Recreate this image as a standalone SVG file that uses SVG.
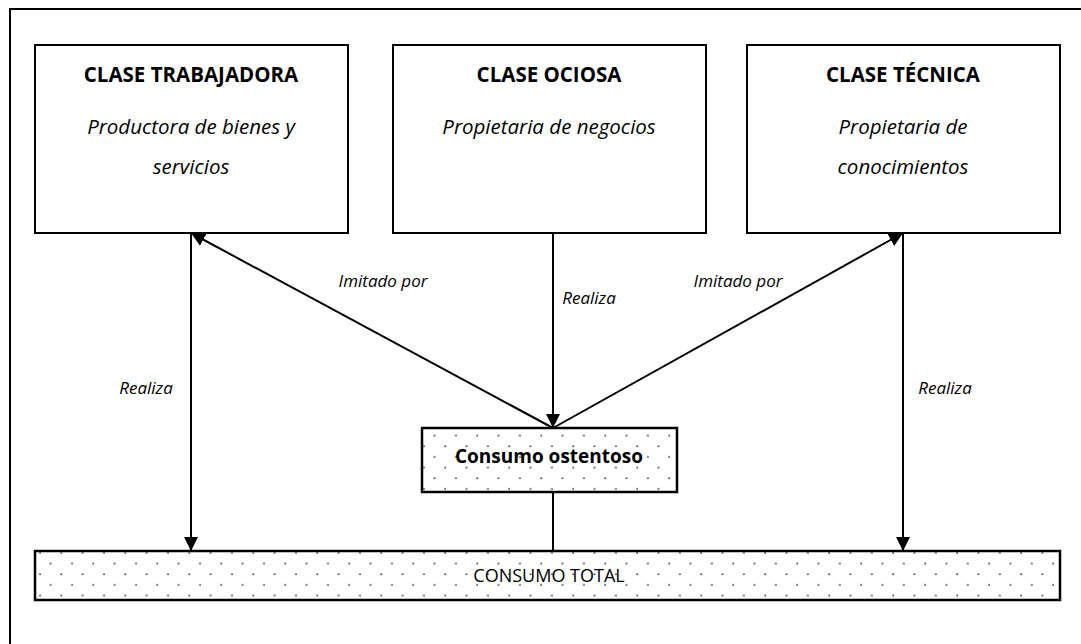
<svg xmlns="http://www.w3.org/2000/svg" width="1081" height="644" viewBox="0 0 1081 644">
  <style>
    .box { fill: #ffffff; stroke: #000000; stroke-width: 2; }
    .dotted { fill: url(#dots); stroke: #000000; stroke-width: 2.5; }
    .frame { fill: none; stroke: #000000; stroke-width: 2; }
    .title { font-family: "Open Sans", "Liberation Sans", sans-serif; font-weight: bold; font-size: 20.5px; text-anchor: middle; fill: #000; }
    .sub { font-family: "Open Sans", "Liberation Sans", sans-serif; font-style: italic; font-size: 20.5px; text-anchor: middle; fill: #000; }
    .lbl { font-family: "Open Sans", "Liberation Sans", sans-serif; font-style: italic; font-size: 17px; text-anchor: middle; fill: #000; }
    .ost { font-family: "Open Sans", "Liberation Sans", sans-serif; font-weight: bold; font-size: 19px; text-anchor: middle; fill: #000; }
    .plain { font-family: "Open Sans", "Liberation Sans", sans-serif; font-size: 18px; text-anchor: middle; fill: #000; }
    .conn { stroke: #000000; stroke-width: 2; fill: none; }
  </style>
  <defs>
    <pattern id="dots" patternUnits="userSpaceOnUse" x="3" y="4" width="21.33" height="21.33">
      <rect width="21.33" height="21.33" fill="#ffffff"/>
      <circle cx="5" cy="5" r="0.9" fill="#333333"/>
      <circle cx="15.67" cy="15.67" r="0.9" fill="#333333"/>
    </pattern>
    <marker id="arrow" viewBox="0 0 14 14" refX="14" refY="7" markerWidth="14" markerHeight="14" markerUnits="userSpaceOnUse" orient="auto">
      <path d="M0,0 L14,7 L0,14 Z" fill="#000000"/>
    </marker>
  </defs>

  <!-- outer frame -->
  <rect class="frame" x="10" y="9" width="1090" height="660"/>

  <g id="node-trabajadora">
    <rect class="box" x="35" y="45" width="313" height="188"/>
    <text class="title" x="191" y="82">CLASE TRABAJADORA</text>
    <text class="sub" x="191" y="134">Productora de bienes y</text>
    <text class="sub" x="191" y="174">servicios</text>
  </g>

  <g id="node-ociosa">
    <rect class="box" x="393" y="45" width="313" height="188"/>
    <text class="title" x="549" y="82">CLASE OCIOSA</text>
    <text class="sub" x="549" y="134">Propietaria de negocios</text>
  </g>

  <g id="node-tecnica">
    <rect class="box" x="747" y="45" width="313" height="188"/>
    <text class="title" x="903" y="82">CLASE TÉCNICA</text>
    <text class="sub" x="903" y="134">Propietaria de</text>
    <text class="sub" x="903" y="174">conocimientos</text>
  </g>

  <g id="node-ostentoso">
    <rect class="dotted" x="422" y="428" width="255" height="64"/>
    <text class="ost" x="549" y="463">Consumo ostentoso</text>
  </g>

  <g id="node-total">
    <rect class="dotted" x="35" y="551" width="1025" height="49"/>
    <text class="plain" x="549" y="582">CONSUMO TOTAL</text>
  </g>

  <g id="connectors">
    <line class="conn" x1="191" y1="233" x2="191" y2="551" marker-end="url(#arrow)"/>
    <line class="conn" x1="903" y1="233" x2="903" y2="551" marker-end="url(#arrow)"/>
    <line class="conn" x1="553" y1="233" x2="553" y2="428" marker-end="url(#arrow)"/>
    <line class="conn" x1="553" y1="428" x2="191" y2="233" marker-end="url(#arrow)"/>
    <line class="conn" x1="553" y1="428" x2="903" y2="233" marker-end="url(#arrow)"/>
    <line class="conn" x1="553" y1="492" x2="553" y2="551" stroke-width="1.3"/>
    <text class="lbl" x="383" y="287">Imitado por</text>
    <text class="lbl" x="589" y="304">Realiza</text>
    <text class="lbl" x="738" y="287">Imitado por</text>
    <text class="lbl" x="146" y="394">Realiza</text>
    <text class="lbl" x="945" y="394">Realiza</text>
  </g>
</svg>
